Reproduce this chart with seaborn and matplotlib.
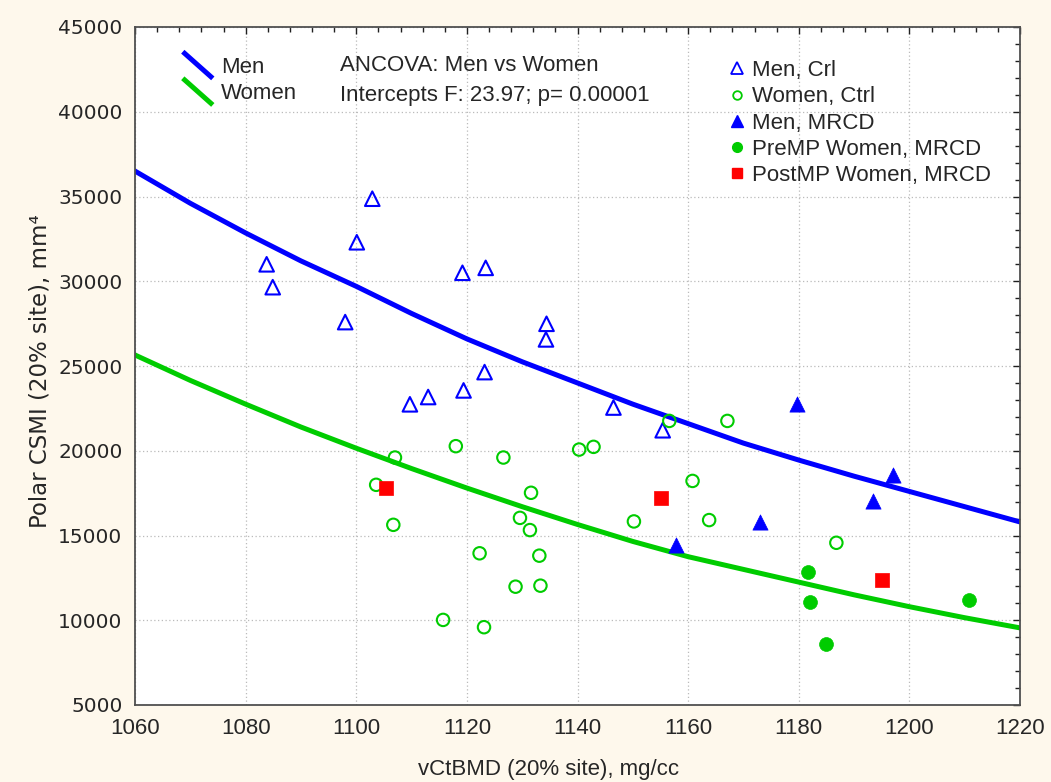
import numpy as np
import pandas as pd
import seaborn as sns
import matplotlib.pyplot as plt
from matplotlib.lines import Line2D
from matplotlib.legend_handler import HandlerLine2D
from matplotlib.ticker import MultipleLocator

# ---- values ----
men_ctrl_x = [1083.8, 1084.9, 1098.0, 1100.1, 1102.9, 1109.7, 1113.0, 1119.2,
              1119.4, 1123.2, 1123.4, 1134.3, 1134.4, 1146.5, 1155.4]
men_ctrl_y = [31000, 29650, 27590, 32300, 34870, 22740, 23170, 30500,
              23560, 24640, 30790, 26570, 27490, 22550, 21210]

women_ctrl_x = [1103.6, 1106.7, 1107.0, 1115.7, 1118.0, 1122.3, 1123.1, 1126.6,
                1128.8, 1129.6, 1131.4, 1131.6, 1133.1, 1133.3, 1140.3, 1142.9,
                1150.2, 1156.6, 1160.8, 1163.8, 1167.1, 1186.8]
women_ctrl_y = [17990, 15630, 19600, 10020, 20270, 13950, 9590, 19600,
                11980, 16040, 15320, 17520, 13810, 12040, 20070, 20230,
                15830, 21760, 18220, 15910, 21760, 14570]

men_mrcd_x = [1157.8, 1173.0, 1179.7, 1193.4, 1197.0]
men_mrcd_y = [14440, 15810, 22780, 17050, 18560]

premp_x = [1181.6, 1182.0, 1184.9, 1210.7]
premp_y = [12850, 11100, 8610, 11210]

postmp_x = [1105.3, 1155.1, 1195.1]
postmp_y = [17790, 17220, 12380]

# fitted curves as drawn in the figure, read every 10 mg/cc
curve_x = [1060, 1070, 1080, 1090, 1100, 1110, 1120, 1130, 1140,
           1150, 1160, 1170, 1180, 1190, 1200, 1210, 1220]
men_curve = [36500, 34600, 32850, 31200, 29700, 28100, 26600, 25250, 24000,
             22750, 21600, 20450, 19450, 18500, 17600, 16700, 15800]
women_curve = [25650, 24150, 22750, 21400, 20150, 18950, 17800, 16700, 15650,
               14650, 13750, 13000, 12250, 11500, 10800, 10150, 9550]

ytick_vals = [5000, 10000, 15000, 20000, 25000, 30000, 35000, 40000, 45000]
ytick_labels = [str(v) for v in ytick_vals]

BLUE = "#0000FF"
GREEN = "#00CC00"
RED = "#FF0000"

sns.set_theme(style="white")
plt.rcParams["font.family"] = ["Liberation Sans", "DejaVu Sans"]

fig, ax = plt.subplots(figsize=(10.51, 7.82), dpi=100)
fig.patch.set_facecolor("#FEF8EC")
ax.set_facecolor("white")
fig.subplots_adjust(left=135 / 1051, right=1020 / 1051,
                    top=1 - 27 / 782, bottom=1 - 705 / 782)

curves = pd.DataFrame({"x": curve_x * 2,
                       "y": men_curve + women_curve,
                       "sex": ["Men"] * len(curve_x) + ["Women"] * len(curve_x)})
sns.lineplot(data=curves, x="x", y="y", hue="sex",
             palette={"Men": BLUE, "Women": GREEN}, lw=3.6, ax=ax, legend=False)

# open markers (controls)
sns.scatterplot(x=men_ctrl_x, y=men_ctrl_y, marker="^", s=110,
                facecolor="none", edgecolor=BLUE, linewidth=1.5, ax=ax, zorder=3)
sns.scatterplot(x=women_ctrl_x, y=women_ctrl_y, marker="o", s=80,
                facecolor="none", edgecolor=GREEN, linewidth=1.5, ax=ax, zorder=3)
# filled markers (MRCD)
sns.scatterplot(x=men_mrcd_x, y=men_mrcd_y, marker="^", s=120,
                color=BLUE, edgecolor=BLUE, linewidth=0.5, ax=ax, zorder=3)
sns.scatterplot(x=premp_x, y=premp_y, marker="o", s=100,
                color=GREEN, edgecolor=GREEN, linewidth=0.5, ax=ax, zorder=3)
sns.scatterplot(x=postmp_x, y=postmp_y, marker="s", s=90,
                color=RED, edgecolor=RED, linewidth=0.5, ax=ax, zorder=3)

# axes, ticks, grid
ax.set_xlim(1060, 1220)
ax.set_ylim(5000, 45000)
ax.xaxis.set_major_locator(MultipleLocator(20))
ax.xaxis.set_minor_locator(MultipleLocator(4))
ax.set_yticks(ytick_vals)
ax.set_yticklabels(ytick_labels, fontfamily="DejaVu Sans", fontsize=14.5)
ax.yaxis.set_minor_locator(MultipleLocator(1000))
ax.tick_params(which="both", direction="in", top=True, right=True,
               color="#202020", width=1.0)
ax.tick_params(which="major", length=5, pad=9)
ax.tick_params(axis="x", which="major", labelsize=16)
ax.tick_params(which="minor", length=3.5)
ax.grid(True, which="major", linestyle=(0, (1, 2)), color="#BBBBBB", lw=0.9)
for sp in ax.spines.values():
    sp.set_color("#505050")
    sp.set_linewidth(1.3)

ax.set_xlabel("vCtBMD (20% site), mg/cc", fontsize=16)
ax.xaxis.set_label_coords(0.467, -0.080)
ax.set_ylabel("Polar CSMI (20% site), mm\u2074", fontsize=16.5,
              fontfamily="DejaVu Sans")
ax.yaxis.set_label_coords(-0.094, 0.492)


class DiagonalHandler(HandlerLine2D):
    def create_artists(self, legend, orig_handle, xdescent, ydescent,
                       width, height, fontsize, trans):
        ln = Line2D([-xdescent, -xdescent + width],
                    [height + 4, -4],
                    color=orig_handle.get_color(),
                    lw=orig_handle.get_linewidth(),
                    solid_capstyle="butt")
        ln.set_transform(trans)
        return [ln]


line_handles = [Line2D([], [], color=BLUE, lw=3.6, label="Men"),
                Line2D([], [], color=GREEN, lw=3.6, label="Women")]
leg1 = ax.legend(handles=line_handles, loc="upper left",
                 bbox_to_anchor=(0.054, 0.956), frameon=False, fontsize=16,
                 handlelength=1.35, handletextpad=0.36, labelspacing=0.25,
                 borderpad=0, borderaxespad=0,
                 handler_map={Line2D: DiagonalHandler()})
ax.add_artist(leg1)

marker_handles = [
    Line2D([], [], ls="none", marker="^", ms=8.3, mfc="none", mec=BLUE, mew=1.3,
           label="Men, Crl"),
    Line2D([], [], ls="none", marker="o", ms=6.2, mfc="none", mec=GREEN, mew=1.3,
           label="Women, Ctrl"),
    Line2D([], [], ls="none", marker="^", ms=8.3, color=BLUE,
           label="Men, MRCD"),
    Line2D([], [], ls="none", marker="o", ms=7, color=GREEN,
           label="PreMP Women, MRCD"),
    Line2D([], [], ls="none", marker="s", ms=7, color=RED,
           label="PostMP Women, MRCD"),
]
ax.legend(handles=marker_handles, loc="upper left",
          bbox_to_anchor=(0.672, 0.951), frameon=False, fontsize=16,
          handlelength=0.7, handletextpad=0.32, labelspacing=0.235,
          borderpad=0, borderaxespad=0)

ax.text(0.2316, 0.959, "ANCOVA: Men vs Women\nIntercepts F: 23.97; p= 0.00001",
        transform=ax.transAxes, fontsize=16, va="top", ha="left",
        linespacing=1.6)

fig.savefig("out.png", dpi=100, facecolor=fig.get_facecolor())
